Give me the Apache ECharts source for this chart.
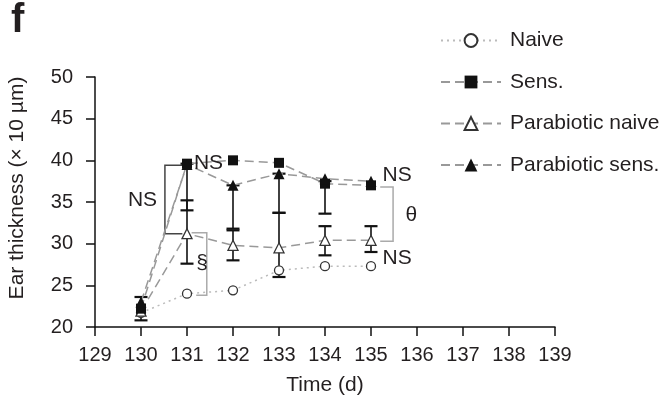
<!DOCTYPE html>
<html><head><meta charset="utf-8">
<script src="https://cdn.jsdelivr.net/npm/echarts@6/dist/echarts.min.js"></script>
<style>html,body{margin:0;padding:0;background:#fff}#c{width:663px;height:404px}</style>
</head><body><div id="c"></div>
<script>
const days = [130, 131, 132, 133, 134, 135];
const naive = [21.7, 24.0, 24.4, 26.8, 27.3, 27.3];
const sens = [22.2, 39.6, 40.0, 39.7, 37.2, 37.0];
const paraNaive = [21.9, 31.2, 29.8, 29.5, 30.4, 30.4];
const paraSens = [23.0, 39.5, 37.0, 38.4, 37.8, 37.5];
// error bars: [day, low, high]
const errorBars = [
  [130, 20.8, 23.6],
  [131, 34.0, 39.6], [131, 27.6, 35.2],
  [132, 31.8, 37.0], [132, 28.0, 31.6],
  [133, 33.7, 38.4], [133, 26.0, 33.7],
  [134, 33.6, 37.5], [134, 28.6, 32.1],
  [135, 29.0, 32.1]
];
const xRange = [129, 139];
const yRange = [20, 50];
// annotation brackets (data coordinates)
const brackets = [
  {pts: [[131, 39.4], [130.52, 39.4], [130.52, 31.2], [130.9, 31.2]], color: '#444'},
  {pts: [[131.1, 31.3], [131.43, 31.3], [131.43, 23.8], [131.2, 23.8]], color: '#aaa'},
  {pts: [[135.2, 36.8], [135.48, 36.8], [135.48, 30.3], [135.2, 30.3]], color: '#aaa'}
];
const labels = [
  {x: 130.35, y: 35.2, text: 'NS', align: 'right'},
  {x: 131.15, y: 39.6, text: 'NS', align: 'left'},
  {x: 131.2, y: 27.6, text: '§', align: 'left'},
  {x: 135.75, y: 33.4, text: 'θ', align: 'left'},
  {x: 135.25, y: 38.2, text: 'NS', align: 'left'},
  {x: 135.25, y: 28.3, text: 'NS', align: 'left'}
];
const names = ['Naive', 'Sens.', 'Parabiotic naive', 'Parabiotic sens.'];

const font = 'Liberation Sans, Arial, sans-serif';
const txt = '#231f20';
const chart = echarts.init(document.getElementById('c'));

function zip(a) { return days.map((d, i) => [d, a[i]]); }

chart.setOption({
  animation: false,
  backgroundColor: '#fff',
  textStyle: {fontFamily: font},
  graphic: [
    {type: 'text', left: 11, top: 1, style: {text: 'f', font: 'bold 40px ' + font, fill: txt}},
    {type: 'text', x: 17, y: 188, rotation: Math.PI / 2,
     style: {text: 'Ear thickness (× 10 µm)', font: '21px ' + font, fill: txt, align: 'center', verticalAlign: 'middle'}}
  ],
  grid: {left: 95, right: 108, top: 77, bottom: 77},
  legend: {
    orient: 'vertical', left: 435, top: 25, itemWidth: 60, itemHeight: 16, itemGap: 20.5,
    textStyle: {fontSize: 21, color: txt, fontFamily: font, padding: [0, 0, 0, 4]},
    data: names
  },
  xAxis: {
    type: 'value', min: xRange[0], max: xRange[1], interval: 1,
    name: 'Time (d)', nameLocation: 'middle', nameGap: 48,
    nameTextStyle: {fontSize: 21, color: txt, fontFamily: font},
    axisLine: {lineStyle: {color: '#111', width: 1.5}},
    axisTick: {inside: false, length: 9, lineStyle: {color: '#111', width: 1.5}},
    axisLabel: {fontSize: 20, color: txt, margin: 18, fontFamily: font},
    splitLine: {show: false}
  },
  yAxis: {
    type: 'value', min: yRange[0], max: yRange[1], interval: 5,
    axisLine: {show: true, lineStyle: {color: '#111', width: 1.5}},
    axisTick: {show: true, inside: false, length: 9, lineStyle: {color: '#111', width: 1.5}},
    axisLabel: {fontSize: 20, color: txt, margin: 22, fontFamily: font},
    splitLine: {show: false}
  },
  series: [
    {
      type: 'custom', name: 'err', silent: true, z: 3,
      data: errorBars.map(e => [e[0], e[1], e[2]]),
      renderItem: function (params, api) {
        const x = api.value(0);
        const lo = api.coord([x, api.value(1)]);
        const hi = api.coord([x, api.value(2)]);
        const w = 6.5;
        return {type: 'group', children: [
          {type: 'line', shape: {x1: lo[0], y1: lo[1], x2: hi[0], y2: hi[1]}, style: {stroke: '#111', lineWidth: 1.6}},
          {type: 'line', shape: {x1: lo[0] - w, y1: lo[1], x2: lo[0] + w, y2: lo[1]}, style: {stroke: '#111', lineWidth: 2.2}},
          {type: 'line', shape: {x1: hi[0] - w, y1: hi[1], x2: hi[0] + w, y2: hi[1]}, style: {stroke: '#111', lineWidth: 2.2}}
        ]};
      }
    },
    {
      type: 'custom', name: 'brackets', silent: true, z: 2,
      data: brackets.map((b, i) => [i]),
      renderItem: function (params, api) {
        const b = brackets[params.dataIndex];
        const pts = b.pts.map(p => api.coord(p));
        return {type: 'polyline', shape: {points: pts}, style: {stroke: b.color, lineWidth: 1.5, fill: null}};
      }
    },
    {
      type: 'custom', name: 'labels', silent: true, z: 6,
      data: labels.map(l => [l.x, l.y]),
      renderItem: function (params, api) {
        const l = labels[params.dataIndex];
        const p = api.coord([l.x, l.y]);
        return {type: 'text', x: p[0], y: p[1], style: {text: l.text, fill: txt, font: '21px ' + font, align: l.align, verticalAlign: 'middle'}};
      }
    },
    {
      name: 'Naive', type: 'line', data: zip(naive), z: 4,
      symbol: 'circle', symbolSize: 9,
      itemStyle: {color: '#fff', borderColor: '#333', borderWidth: 1.3},
      lineStyle: {color: '#bbb', width: 1.5, type: [2, 4]}
    },
    {
      name: 'Sens.', type: 'line', data: zip(sens), z: 5,
      symbol: 'rect', symbolSize: 10,
      itemStyle: {color: '#111', borderColor: '#111', borderWidth: 0},
      lineStyle: {color: '#999', width: 1.5, type: [9, 5]}
    },
    {
      name: 'Parabiotic naive', type: 'line', data: zip(paraNaive), z: 4,
      symbol: 'triangle', symbolSize: 10,
      itemStyle: {color: '#fff', borderColor: '#333', borderWidth: 1.3},
      lineStyle: {color: '#999', width: 1.5, type: [9, 5]}
    },
    {
      name: 'Parabiotic sens.', type: 'line', data: zip(paraSens), z: 5,
      symbol: 'triangle', symbolSize: 11,
      itemStyle: {color: '#111', borderColor: '#111', borderWidth: 0},
      lineStyle: {color: '#999', width: 1.5, type: [9, 5]}
    }
  ]
});
</script></body></html>
